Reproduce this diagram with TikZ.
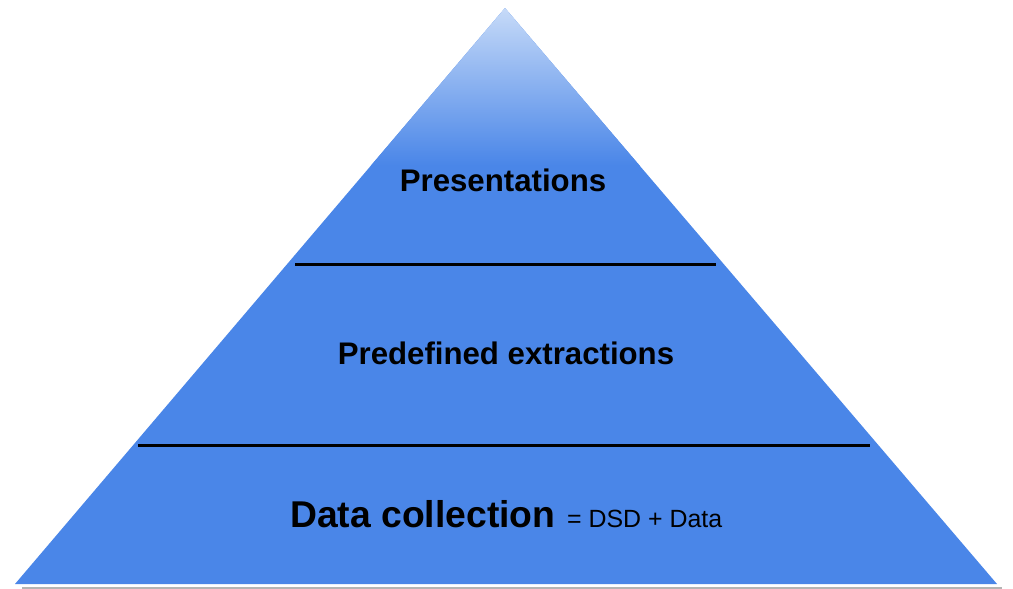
\documentclass[tikz,border=0pt]{standalone}
\usepackage{fontspec}
\setmainfont{Liberation Sans}
\definecolor{pyrblue}{HTML}{4A86E8}
\definecolor{pyrlight}{HTML}{C6DAF8}
\definecolor{rulegray}{HTML}{B4B4B4}
\begin{document}
\begin{tikzpicture}[x=1pt,y=-1pt,
  divider/.style={line width=3pt,black},
  label/.style={anchor=base,inner sep=0pt,text=black}]
\useasboundingbox (0,0) rectangle (1013,589);
\coordinate (apex) at (505,8);
\coordinate (bl) at (15,584);
\coordinate (br) at (997,584);
% triangle
\fill[pyrblue] (apex) -- (bl) -- (br) -- cycle;
\begin{scope}
\clip (apex) -- (bl) -- (br) -- cycle;
\shade[top color=pyrlight,bottom color=pyrblue] (0,8) rectangle (1013,165);
\end{scope}
% base line
\coordinate (g1) at (22,588);
\coordinate (g2) at (1002,588);
\draw[draw=rulegray,line width=1.5pt] (g1) -- (g2);
% dividers
\coordinate (d1l) at (295,264);
\coordinate (d1r) at (716,264);
\coordinate (d2l) at (138,445);
\coordinate (d2r) at (870,445);
\draw[divider] (d1l) -- (d1r);
\draw[divider] (d2l) -- (d2r);
% labels
\node[label] (pres) at (503,191) {\fontsize{31.2}{36}\selectfont\bfseries Presentations};
\node[label] (pred) at (506,364) {\fontsize{31.2}{36}\selectfont\bfseries Predefined extractions};
\node[label,anchor=base west] (dc) at (290,527) {\fontsize{37.3}{42}\selectfont\bfseries Data collection};
\node[label,anchor=base west] (dsd) at (567,527) {\fontsize{24.9}{30}\selectfont = DSD + Data};
\end{tikzpicture}
\end{document}
